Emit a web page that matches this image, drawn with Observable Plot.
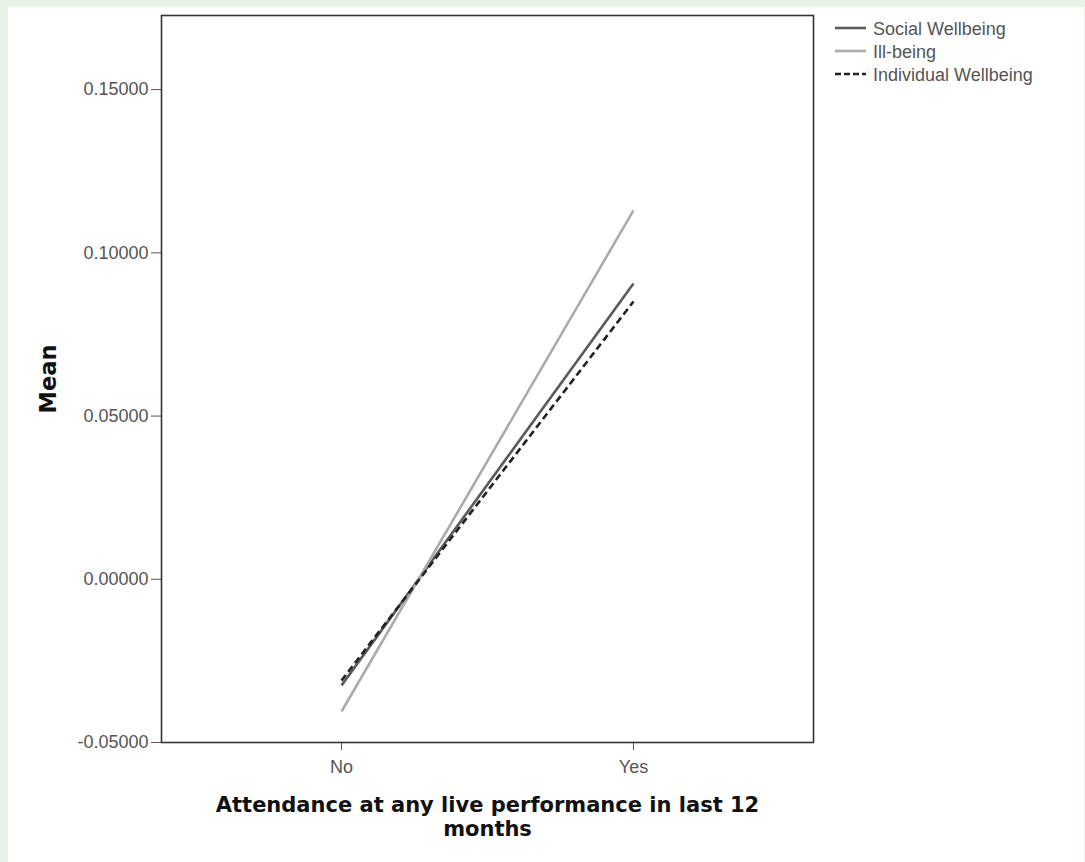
<!DOCTYPE html>
<html>
<head>
<meta charset="utf-8">
<script src="https://cdn.jsdelivr.net/npm/d3@7"></script>
<script src="https://cdn.jsdelivr.net/npm/@observablehq/plot@0.6"></script>
<style>
  html, body { margin: 0; padding: 0; }
  body { width: 1085px; height: 862px; background: #e8f2e6; position: relative; overflow: hidden; }
  #panel { position: absolute; left: 8px; top: 7px; width: 1076px; height: 855px; background: #fff; }
  #chart { position: absolute; left: 0; top: 0; }
  #legend { position: absolute; left: 0; top: 0; }
</style>
</head>
<body>
<div id="panel">
  <div id="chart"></div>
  <svg id="legend" width="1076" height="120"></svg>
</div>
<script>
const categories = ["No", "Yes"];
const socialWellbeing = [-0.0325, 0.0906];
const illBeing = [-0.0405, 0.1130];
const individualWellbeing = [-0.0310, 0.0851];
const yTicks = [-0.05, 0.00, 0.05, 0.10, 0.15];
const seriesNames = ["Social Wellbeing", "Ill-being", "Individual Wellbeing"];
const xTitle = "Attendance at any live performance in last 12\nmonths";
const yTitle = "Mean";

const seriesStyle = {
  "Social Wellbeing": {stroke: "#5a5a5a", dash: null},
  "Ill-being": {stroke: "#ababab", dash: null},
  "Individual Wellbeing": {stroke: "#222222", dash: "7,4"}
};
const seriesValues = [socialWellbeing, illBeing, individualWellbeing];
const rows = seriesNames.flatMap((s, i) => categories.map((c, j) => ({series: s, cat: c, value: seriesValues[i][j]})));

const W = 1076, H = 855;
const chart = Plot.plot({
  width: W,
  height: H,
  marginLeft: 153,
  marginTop: 8,
  marginRight: 271,
  marginBottom: 120,
  style: {fontFamily: "'Liberation Sans', Arial, sans-serif", fontSize: "18px", background: "transparent"},
  x: {type: "point", domain: categories, padding: 0.614, label: null},
  y: {domain: [-0.05, 0.1727], label: null},
  marks: [
    Plot.axisY({ticks: yTicks, tickFormat: d => d.toFixed(5), tickSize: 10, tickPadding: 3, color: "#555", fontSize: 18, label: null}),
    Plot.axisX({tickSize: 8, tickPadding: 10, color: "#555", fontSize: 18, label: null}),
    ...seriesNames.map(s => Plot.line(rows.filter(r => r.series === s), {
      x: "cat", y: "value", stroke: seriesStyle[s].stroke, strokeWidth: 2.6,
      strokeDasharray: seriesStyle[s].dash, strokeLinecap: "butt"
    })),
    Plot.frame({stroke: "#333", strokeWidth: 1.6}),
    Plot.text([yTitle], {frameAnchor: "left", dx: -113, rotate: -90, textAnchor: "middle", fontSize: 22.5, fontWeight: "bold", fill: "#111", fontFamily: "'DejaVu Sans', sans-serif"}),
    Plot.text([xTitle], {frameAnchor: "bottom", dy: 52, lineAnchor: "top", fontSize: 21, fontWeight: "bold", fill: "#111", lineHeight: 1.15, fontFamily: "'DejaVu Sans', sans-serif"})
  ]
});
document.getElementById("chart").appendChild(chart);

// legend
const lg = d3.select("#legend");
const legendY = [22, 45, 68];
seriesNames.forEach((s, i) => {
  lg.append("line").attr("x1", 827).attr("x2", 858).attr("y1", legendY[i] - 1).attr("y2", legendY[i] - 1)
    .attr("stroke", seriesStyle[s].stroke).attr("stroke-width", 2.6)
    .attr("stroke-dasharray", seriesStyle[s].dash ? "6,3" : null);
  lg.append("text").attr("x", 865).attr("y", legendY[i]).attr("dy", "0.35em")
    .attr("font-family", "'Liberation Sans', Arial, sans-serif").attr("font-size", 18).attr("fill", "#555")
    .text(s);
});
</script>
</body>
</html>
